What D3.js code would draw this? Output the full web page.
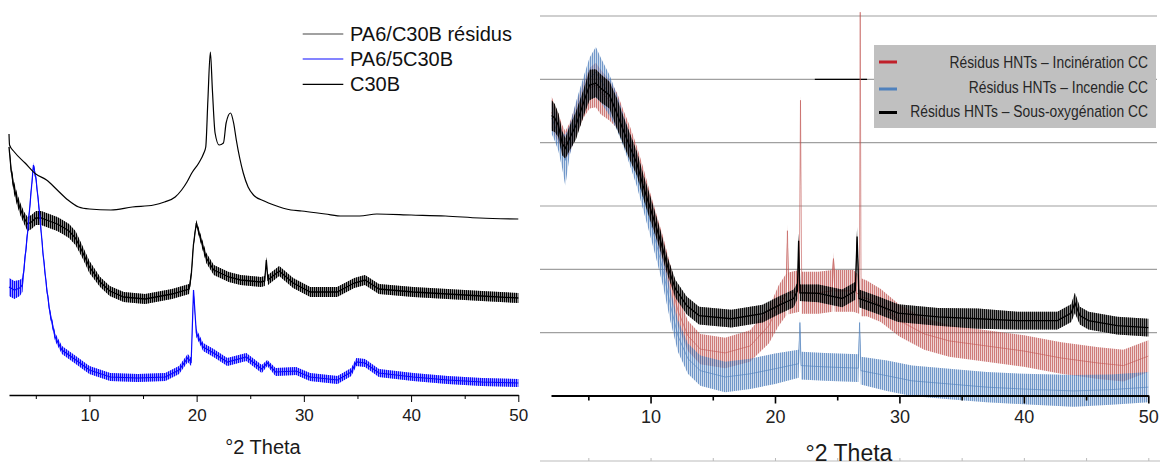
<!DOCTYPE html>
<html>
<head>
<meta charset="utf-8">
<script src="https://cdn.jsdelivr.net/npm/d3@7/dist/d3.min.js"></script>
<style>
body{margin:0;background:#fff;}
svg{display:block;font-family:"Liberation Sans",Arial,sans-serif;}
</style>
</head>
<body>
<svg id="chart" width="1163" height="466"></svg>
<script>
// ---------- left panel ----------
var leftTicks = [10, 20, 30, 40, 50];
var leftMinor = [5, 15, 25, 35, 45];
var leftNames = ['PA6/C30B résidus', 'PA6/5C30B', 'C30B'];

// PA6/C30B résidus : [2theta, intensity]
var residus = [[2.5,261],[2.55,250],[3,243],[4,232],[5,221],[6,215],[7,205],[8,195],[9,188],[10,186],[12,185],[14,188],[16,190],[17,193],[18,198],[18.6,205],[19.1,213],[19.55,222],[20.2,232],[20.67,242],[20.85,248],[21.05,295],[21.28,343],[21.47,305],[21.72,262],[22.1,250],[22.5,252],[22.75,272],[23.16,282],[23.45,272],[23.7,255],[24.35,222],[24.8,208],[25.3,200],[26.3,194],[27.2,190],[28.8,185],[29.8,184],[32,181],[33.6,179],[35.2,179],[36.8,181],[40,180],[43.2,179],[46.4,177],[50,176]];

// PA6/5C30B : [2theta, mean, noise]
var pa6c30b = [[2.5,108,9],[3,105,9],[3.5,107,8],[3.75,110,7],[3.91,128,5],[4.23,162,5],[4.55,202,4],[4.78,230,3],[5.03,215,4],[5.35,182,4],[5.67,142,4],[6,108,4],[6.32,82,4],[6.8,58,4],[7.44,45,4],[8.73,35,4],[10,25,4],[11.94,18,4],[14.5,17,4],[17.08,18,4],[18.36,25,4],[19.17,37,4],[19.49,33,4],[19.71,105,2],[19.97,62,4],[20.61,48,4],[21.58,42,4],[22.86,33,4],[24.63,38,4],[26.07,26,4],[26.59,32,3],[27.36,23,4],[29.28,24,4],[30.57,18,4],[33.14,15,4],[34.42,23,4],[34.9,33,4],[35.7,32,4],[37,22,4],[40.2,18,4],[43.4,15,4],[46.6,13,4],[50,12,4]];

// C30B : [2theta, mean, noise]
var c30b = [[2.5,248,4],[2.7,225,5],[2.95,208,6],[3.27,195,6],[3.59,185,6],[3.91,177,6],[4.23,171,7],[4.6,173,7],[5,177,7],[5.5,177,7],[6,175,7],[6.5,173,7],[7,171,7],[7.5,168,7],[8.1,164,7],[8.7,157,7],[9.4,142,6],[10,128,6],[11,113,5],[11.9,104,5],[13.2,98,5],[15.2,96,5],[17.7,101,5],[19.3,106,5],[19.5,120,4],[19.7,150,3],[19.97,172,3],[20.3,159,4],[20.9,137,5],[21.6,125,5],[23,118,5],[24.1,115,5],[26,113,5],[26.35,114,5],[26.5,135,3],[26.65,115,5],[27.7,124,5],[29,112,5],[30.6,103,5],[33.1,103,5],[34.7,112,5],[35.7,115,5],[37,106,5],[40.2,103,5],[43.4,101,5],[46.6,99,5],[50,97,5]];

// ---------- right panel ----------
var rightTicks = [10, 20, 30, 40, 50];
var rightMinor = [5, 15, 25, 35, 45];
var gridVals = [1000, 2000, 3000, 4000, 5000, 6000];
var rightNames = ['Résidus HNTs – Incinération CC', 'Résidus HNTs – Incendie CC', 'Résidus HNTs – Sous-oxygénation CC'];

// [2theta, mean counts, noise]
var incineration = [[2.05,4480,250],[2.3,4350,240],[2.6,4230,220],[2.9,4040,240],[3.15,3960,220],[3.5,4070,240],[4,4350,250],[4.6,4670,280],[5.1,4860,320],[5.6,4910,350],[6,4800,350],[6.7,4670,320],[7.3,4510,280],[7.8,4270,250],[8.35,4010,240],[8.9,3720,220],[9.4,3400,210],[9.95,3010,210],[10.5,2640,210],[11,2300,220],[11.6,1820,240],[12.2,1350,240],[13,950,240],[14,740,240],[16,680,240],[18,790,250],[19.5,1110,280],[20.3,1430,320],[20.9,1600,330],[21,2610,100],[21.1,1620,330],[21.95,1660,330],[22.05,4670,80],[22.15,1630,330],[23.5,1630,330],[24.6,1660,330],[24.7,2170,100],[24.8,1660,330],[26.3,1660,330],[26.78,1600,300],[26.85,6060,60],[26.92,1560,300],[27.4,1540,280],[28.5,1430,260],[30,1190,250],[32,980,250],[34,870,250],[37,790,250],[40,710,250],[43,600,250],[46,520,250],[48,480,250],[50,630,250]];

var incendie = [[2.05,4390,250],[2.3,4270,240],[2.6,4120,250],[2.9,3880,280],[3.15,3720,400],[3.5,4040,240],[4,4390,250],[4.6,4750,280],[5.1,5020,320],[5.6,5110,400],[6,4990,350],[6.7,4750,320],[7.3,4480,280],[7.8,4200,250],[8.35,3880,240],[8.9,3530,220],[9.4,3170,220],[9.95,2770,220],[10.5,2380,240],[11,1980,240],[11.6,1430,250],[12.2,950,250],[13,590,240],[14,400,240],[16,300,240],[18,350,240],[20,430,240],[21.9,510,220],[22,1160,80],[22.1,480,220],[24,460,220],[26.7,440,220],[26.8,1160,80],[26.9,400,220],[29,320,240],[31,240,240],[34,190,240],[37,140,240],[40,110,240],[44,80,250],[47,100,240],[50,140,240]];

var sousOxygenation = [[2.05,4430,240],[2.3,4390,220],[2.6,4270,190],[2.9,3990,190],[3.15,3910,160],[3.5,4070,190],[4,4270,220],[4.6,4620,210],[5.1,4910,240],[5.6,4940,220],[6,4860,220],[6.7,4750,210],[7.3,4460,240],[7.8,4200,220],[8.35,3930,210],[8.9,3670,190],[9.4,3320,190],[9.95,2980,190],[10.5,2640,170],[10.8,2450,160],[11.35,2060,140],[12,1690,140],[12.9,1430,140],[13.9,1270,140],[16.5,1220,140],[19,1300,140],[20.3,1430,140],[21.5,1540,140],[21.8,1660,130],[21.9,2450,120],[22,1630,130],[23.5,1620,140],[25.4,1540,140],[26.45,1660,140],[26.6,2520,150],[26.75,1540,140],[28.3,1430,140],[29.9,1310,140],[33.1,1250,140],[36.3,1220,160],[39.5,1190,140],[42.7,1190,140],[43.8,1310,140],[44.1,1470,160],[44.5,1270,140],[45.2,1190,140],[47.5,1110,140],[50,1080,140]];

var svg = d3.select('#chart');
var defs = svg.append('defs');

// vertical hatch used to give the noisy traces their texture
function hatch(id, color, w){
	var p = defs.append('pattern').attr('id', id).attr('patternUnits', 'userSpaceOnUse')
		.attr('width', w).attr('height', 10);
	p.append('rect').attr('width', 1).attr('height', 10).attr('fill', color);
}
hatch('hK', '#000', 2);
hatch('hB', '#0a0aff', 2);
hatch('hRed', '#b8403d', 2);
hatch('hBlue', '#3f72b5', 2);
hatch('hBlack', '#000', 2);

function band(x, y){
	return d3.area().x(function(d){ return x(d[0]); })
		.y0(function(d){ return y(d[1]-d[2]); })
		.y1(function(d){ return y(d[1]+d[2]); });
}
function mean(x, y){
	return d3.line().x(function(d){ return x(d[0]); }).y(function(d){ return y(d[1]); });
}
function noisy(g, data, x, y, color, pat, fo, ho, lw, lo){
	g.append('path').datum(data).attr('d', band(x, y)).attr('fill', color).attr('opacity', fo);
	g.append('path').datum(data).attr('d', band(x, y)).attr('fill', 'url(#' + pat + ')').attr('opacity', ho);
	g.append('path').datum(data).attr('d', mean(x, y)).attr('fill', 'none')
		.attr('stroke', color).attr('stroke-width', lw).attr('opacity', lo);
}

//LEFT PANEL
var xL = d3.scaleLinear().domain([2.5, 50]).range([9, 518.3]);
var yL = d3.scaleLinear().domain([0, 400]).range([395, -5]);
var gL = svg.append('g');

noisy(gL, c30b, xL, yL, '#000', 'hK', 0.45, 1, 1.3, 1);
noisy(gL, pa6c30b, xL, yL, '#0a0aff', 'hB', 0.4, 1, 1.2, 1);
gL.append('path').datum(residus)
	.attr('d', mean(xL, yL).curve(d3.curveMonotoneX))
	.attr('fill', 'none').attr('stroke', '#000').attr('stroke-width', 1.2);

var axL = gL.append('g').attr('transform', 'translate(0,395)')
	.call(d3.axisBottom(xL).tickValues(leftTicks).tickSize(7).tickSizeOuter(0).tickPadding(7));
axL.select('.domain').attr('stroke-width', 1.4);
axL.selectAll('text').attr('font-size', 17).attr('fill', '#1a1a1a').attr('font-family', '"Liberation Sans",Arial,sans-serif');
gL.append('g').attr('transform', 'translate(0,395)')
	.call(d3.axisBottom(xL).tickValues(leftMinor).tickSize(4).tickFormat(''))
	.select('.domain').remove();
gL.append('text').attr('x', 263).attr('y', 454).attr('text-anchor', 'middle')
	.attr('font-size', 20).attr('fill', '#1a1a1a').text('°2 Theta');

var legL = gL.selectAll('.legL').data(leftNames).enter().append('g')
	.attr('transform', function(d,i){ return 'translate(0,' + [34, 59, 84.3][i] + ')'; });
legL.append('line').attr('x1', 302.7).attr('x2', 343.3)
	.attr('stroke', function(d,i){ return ['#444', '#0a0aff', '#000'][i]; }).attr('stroke-width', 1.2);
legL.append('text').attr('x', 350).attr('y', 7).attr('font-size', 20).attr('fill', '#111').text(function(d){ return d; });

//RIGHT PANEL
var xR = d3.scaleLinear().domain([2, 50]).range([551, 1148.3]);
var yR = d3.scaleLinear().domain([0, 6000]).range([396, 16]);
var gR = svg.append('g');

gR.selectAll('.grid').data(gridVals).enter().append('line')
	.attr('x1', 540).attr('x2', 1157)
	.attr('y1', function(d){ return yR(d); }).attr('y2', function(d){ return yR(d); })
	.attr('stroke', '#a0a0a0').attr('stroke-width', 1.2);

// stray legend stub
gR.append('line').attr('x1', xR(23.2)).attr('x2', xR(27.4)).attr('y1', yR(5000)).attr('y2', yR(5000))
	.attr('stroke', '#000').attr('stroke-width', 1.4);

noisy(gR, incineration, xR, yR, '#c0504d', 'hRed', 0.25, 0.6, 1, 0.55);
noisy(gR, incendie, xR, yR, '#4f81bd', 'hBlue', 0.28, 0.65, 1, 0.6);
noisy(gR, sousOxygenation, xR, yR, '#000', 'hBlack', 0.5, 0.9, 1.3, 1);

var axR = gR.append('g').attr('transform', 'translate(0,395.5)')
	.call(d3.axisBottom(xR).tickValues(rightTicks).tickSize(8).tickSizeOuter(0).tickPadding(7));
axR.select('.domain').attr('stroke-width', 2.2);
axR.selectAll('.tick line').attr('stroke-width', 1.6);
axR.selectAll('text').attr('font-size', 18).attr('fill', '#222').attr('font-family', '"Liberation Sans",Arial,sans-serif');
var axR2 = gR.append('g').attr('transform', 'translate(0,395.5)')
	.call(d3.axisBottom(xR).tickValues(rightMinor).tickSize(5).tickFormat(''));
axR2.select('.domain').remove();
axR2.selectAll('.tick line').attr('stroke-width', 1.6);

// lower chart frame
gR.append('line').attr('x1', 540).attr('x2', 1160).attr('y1', 461).attr('y2', 461).attr('stroke', '#bbb').attr('stroke-width', 1.2);
var axB = gR.append('g').attr('transform', 'translate(0,461)')
	.call(d3.axisTop(xR).tickValues(leftMinor.concat(rightTicks)).tickSize(3).tickFormat(''));
axB.select('.domain').remove();
axB.selectAll('.tick line').attr('stroke', '#bbb');

gR.append('text').attr('x', 849).attr('y', 461).attr('text-anchor', 'middle')
	.attr('font-size', 23).attr('fill', '#1a1a1a').text('°2 Theta');

// legend
gR.append('rect').attr('x', 874).attr('y', 45).attr('width', 282).attr('height', 83).attr('fill', '#c0c0c0');
var legRows = [62, 89, 112.5];
var legBase = [68.3, 93.3, 117.3];
var legR = gR.selectAll('.legR').data(rightNames).enter().append('g');
legR.append('line').attr('x1', 879).attr('x2', 897)
	.attr('y1', function(d,i){ return legRows[i]; }).attr('y2', function(d,i){ return legRows[i]; })
	.attr('stroke', function(d,i){ return ['#c0202a', '#4f81bd', '#000'][i]; }).attr('stroke-width', 3);
legR.append('text')
	.attr('transform', function(d,i){ return 'translate(1148,' + legBase[i] + ') scale(0.84,1)'; })
	.attr('text-anchor', 'end').attr('font-size', 16.5).attr('fill', '#262626')
	.text(function(d){ return d; });
</script>
</body>
</html>
